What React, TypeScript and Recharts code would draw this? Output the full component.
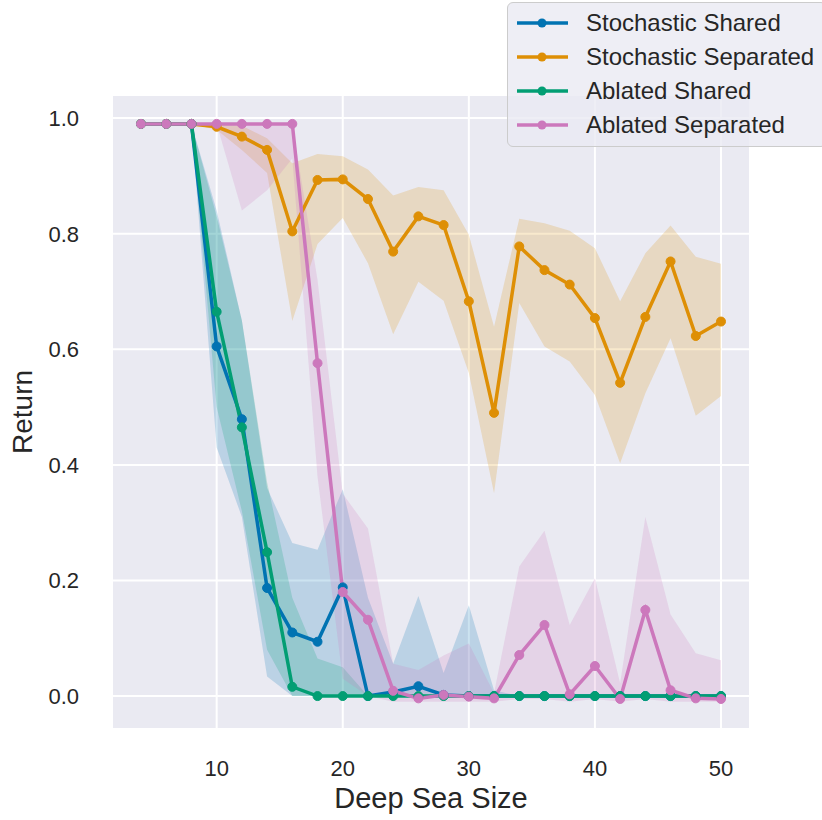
import React from 'react';
import {
  Area,
  CartesianGrid,
  ComposedChart,
  Label,
  Legend,
  Line,
  XAxis,
  YAxis,
} from 'recharts';

// deep sea sizes on the x axis
const sizes = [4, 6, 8, 10, 12, 14, 16, 18, 20, 22, 24, 26, 28, 30, 32, 34, 36, 38, 40, 42, 44, 46, 48, 50];

// Stochastic Shared
const stochShared = [0.99, 0.99, 0.99, 0.605, 0.479, 0.187, 0.11, 0.094, 0.188, 0.0, 0.007, 0.017, 0.002, 0, 0, 0, 0, 0, 0, 0, 0, 0, 0, 0];
const stochSharedLo = [0.99, 0.99, 0.99, 0.43, 0.31, 0.034, 0, 0, 0, 0, 0, 0, 0, 0, 0, 0, 0, 0, 0, 0, 0, 0, 0, 0];
const stochSharedHi = [0.99, 0.99, 0.99, 0.84, 0.65, 0.36, 0.265, 0.253, 0.358, 0.17, 0.056, 0.173, 0.04, 0.157, 0.01, 0, 0, 0, 0, 0, 0, 0, 0, 0];

// Stochastic Separated
const stochSep = [0.99, 0.99, 0.99, 0.985, 0.968, 0.945, 0.804, 0.893, 0.894, 0.86, 0.769, 0.83, 0.815, 0.683, 0.49, 0.778, 0.737, 0.712, 0.654, 0.542, 0.656, 0.752, 0.623, 0.648];
const stochSepLo = [0.99, 0.99, 0.99, 0.98, 0.945, 0.905, 0.649, 0.782, 0.827, 0.749, 0.626, 0.717, 0.684, 0.559, 0.351, 0.68, 0.605, 0.579, 0.521, 0.403, 0.524, 0.619, 0.485, 0.519];
const stochSepHi = [0.99, 0.99, 0.99, 0.99, 0.987, 0.965, 0.922, 0.938, 0.934, 0.911, 0.866, 0.881, 0.875, 0.798, 0.639, 0.826, 0.818, 0.805, 0.775, 0.683, 0.766, 0.814, 0.76, 0.748];

// Ablated Shared
const ablShared = [0.99, 0.99, 0.99, 0.665, 0.465, 0.249, 0.016, 0, 0, 0, 0, 0, 0, 0, 0, 0, 0, 0, 0, 0, 0, 0, 0, 0];
const ablSharedLo = [0.99, 0.99, 0.99, 0.5, 0.32, 0.08, 0, 0, 0, 0, 0, 0, 0, 0, 0, 0, 0, 0, 0, 0, 0, 0, 0, 0];
const ablSharedHi = [0.99, 0.99, 0.99, 0.83, 0.65, 0.37, 0.17, 0.065, 0.05, 0, 0, 0, 0, 0, 0, 0, 0, 0, 0, 0, 0, 0, 0, 0];

// Ablated Separated
const ablSep = [0.99, 0.99, 0.99, 0.99, 0.99, 0.99, 0.99, 0.576, 0.18, 0.132, 0.009, -0.004, 0.002, -0.001, -0.004, 0.071, 0.123, 0.003, 0.052, -0.005, 0.149, 0.01, -0.004, -0.005];
const ablSepLo = [0.99, 0.99, 0.99, 0.99, 0.84, 0.875, 0.93, 0.38, 0.03, 0, -0.01, -0.01, -0.01, -0.01, -0.01, -0.005, -0.005, -0.01, -0.005, -0.01, -0.005, -0.01, -0.01, -0.01];
const ablSepHi = [0.99, 0.99, 0.99, 0.99, 0.99, 0.99, 0.99, 0.72, 0.35, 0.29, 0.056, 0.045, 0.07, 0.091, 0.005, 0.224, 0.286, 0.123, 0.204, 0.022, 0.31, 0.141, 0.074, 0.062];

const xTicks = [10, 20, 30, 40, 50];
const yTicks = [0, 0.2, 0.4, 0.6, 0.8, 1.0];

const series = [
  { key: 'ss', name: 'Stochastic Shared', color: '#0173b2' },
  { key: 'sp', name: 'Stochastic Separated', color: '#de8f05' },
  { key: 'as', name: 'Ablated Shared', color: '#029e73' },
  { key: 'ap', name: 'Ablated Separated', color: '#cc78bc' },
];

const data = sizes.map((size, i) => ({
  size,
  ss: stochShared[i],
  ssBand: [stochSharedLo[i], stochSharedHi[i]],
  sp: stochSep[i],
  spBand: [stochSepLo[i], stochSepHi[i]],
  as: ablShared[i],
  asBand: [ablSharedLo[i], ablSharedHi[i]],
  ap: ablSep[i],
  apBand: [ablSepLo[i], ablSepHi[i]],
}));

const FONT = '"Liberation Sans", Arial, sans-serif';
const TEXT = '#262626';

const LegendBox = () => (
  <div
    style={{
      width: 320,
      height: 145,
      boxSizing: 'border-box',
      background: 'rgba(234,234,242,0.8)',
      border: '1.3px solid #cccccc',
      borderRadius: 6,
      fontFamily: FONT,
      fontSize: 24,
      color: TEXT,
      paddingTop: 3,
    }}
  >
    {series.map((s) => (
      <div key={s.key} style={{ display: 'flex', alignItems: 'center', height: 34 }}>
        <svg width={78} height={20} style={{ flexShrink: 0 }}>
          <line x1={9} x2={60} y1={10} y2={10} stroke={s.color} strokeWidth={3.5} />
          <circle cx={34} cy={10} r={4.5} fill={s.color} />
        </svg>
        <span>{s.name}</span>
      </div>
    ))}
  </div>
);

const XLabel = ({ viewBox }: any) => (
  <text
    x={viewBox.x + viewBox.width / 2}
    y={viewBox.y + 79}
    textAnchor="middle"
    fontSize={29}
    fontFamily={FONT}
    fill={TEXT}
  >
    Deep Sea Size
  </text>
);

const YLabel = ({ viewBox }: any) => {
  const x = viewBox.x + 20;
  const y = viewBox.y + viewBox.height / 2;
  return (
    <text
      x={x}
      y={y}
      transform={`rotate(-90, ${x}, ${y})`}
      textAnchor="middle"
      fontSize={28}
      fontFamily={FONT}
      fill={TEXT}
    >
      Return
    </text>
  );
};

export default function App() {
  return (
    <div style={{ position: 'absolute', left: 0, top: 0, width: 822, height: 820, overflow: 'hidden', background: '#fff' }}>
      <ComposedChart width={822} height={820} data={data} margin={{ top: 95, right: 72, bottom: 1, left: 12 }}>
        <CartesianGrid fill="#eaeaf2" stroke="#ffffff" strokeWidth={2} strokeDasharray="" />
        <XAxis
          dataKey="size"
          type="number"
          domain={[1.7, 52.3]}
          ticks={xTicks}
          allowDataOverflow
          axisLine={false}
          tickLine={false}
          tickSize={0}
          tickMargin={31}
          height={90}
          tick={{ fontSize: 22, fontFamily: FONT, fill: TEXT }}
        >
          <Label content={<XLabel />} />
        </XAxis>
        <YAxis
          type="number"
          domain={[-0.057, 1.04]}
          ticks={yTicks}
          allowDataOverflow
          axisLine={false}
          tickLine={false}
          tickSize={0}
          tickMargin={33}
          width={100}
          tickFormatter={(v: number) => v.toFixed(1)}
          tick={{ fontSize: 22, fontFamily: FONT, fill: TEXT }}
        >
          <Label content={<YLabel />} />
        </YAxis>
        {series.map((s) => (
          <Area
            key={`${s.key}-band`}
            type="linear"
            dataKey={`${s.key}Band`}
            fill={s.color}
            fillOpacity={0.2}
            stroke="none"
            isAnimationActive={false}
            legendType="none"
            activeDot={false}
          />
        ))}
        {series.map((s) => (
          <Line
            key={s.key}
            type="linear"
            dataKey={s.key}
            name={s.name}
            stroke={s.color}
            strokeWidth={3.5}
            dot={{ r: 4.5, fill: s.color, stroke: s.color, strokeWidth: 1 }}
            activeDot={false}
            isAnimationActive={false}
          />
        ))}
        <Legend
          layout="vertical"
          align="center"
          verticalAlign="middle"
          wrapperStyle={{ left: 507, top: 2, width: 320 }}
          content={() => <LegendBox />}
        />
      </ComposedChart>
    </div>
  );
}
